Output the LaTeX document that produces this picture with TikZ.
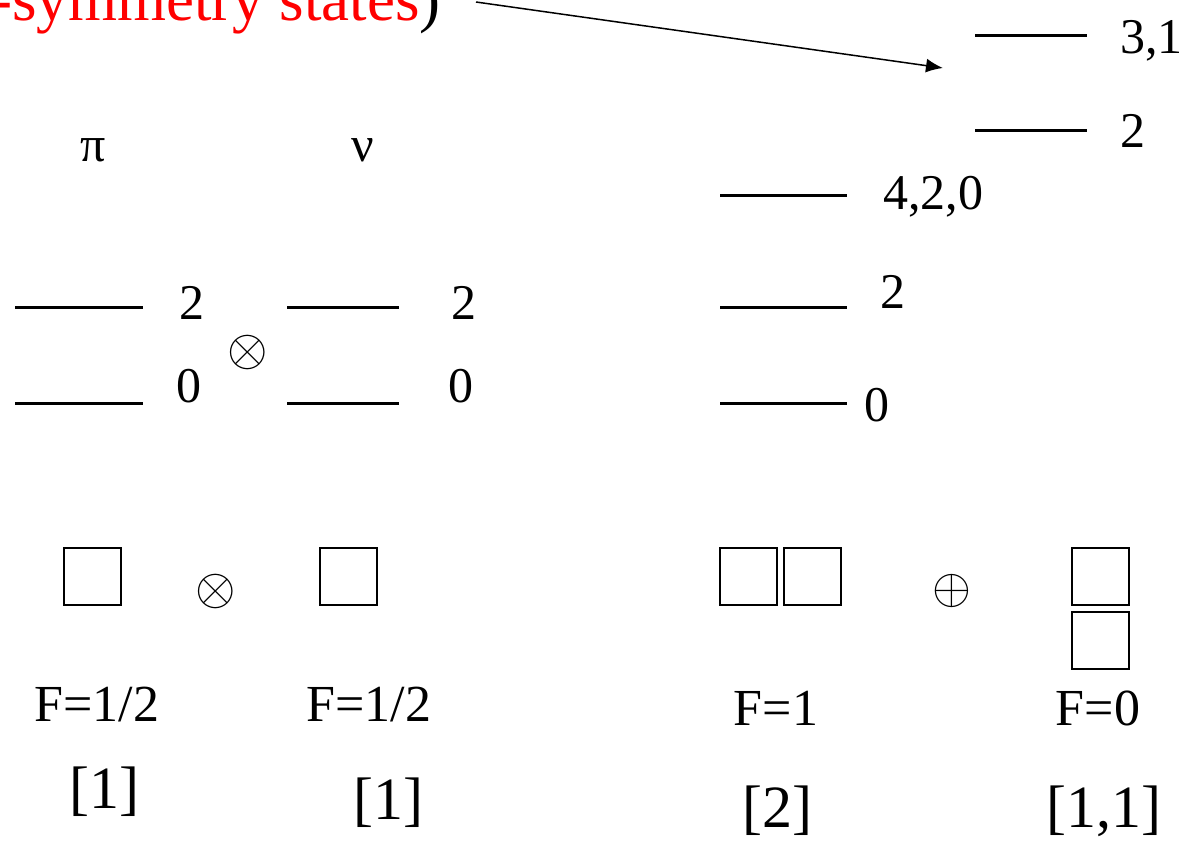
\documentclass[tikz,border=0pt]{standalone}
\usepackage{graphicx}
\usepackage{fontspec}
\setmainfont{Liberation Serif}
\usetikzlibrary{arrows.meta}
\newcommand{\bigotimesym}{\scalebox{5.2}{$\otimes$}}
\newcommand{\bigoplussym}{\scalebox{5.0}{$\oplus$}}
\begin{document}
\begin{tikzpicture}[x=1pt,y=-1pt,
  lvl/.style={line width=3pt},
  lab/.style={font=\fontsize{50}{50}\selectfont, inner sep=0pt, text depth=0pt},
  big/.style={font=\fontsize{60}{60}\selectfont, inner sep=0pt},
  flab/.style={font=\fontsize{52}{52}\selectfont, inner sep=0pt, text depth=0pt},
  op/.style={inner sep=0pt},
  ybox/.style={draw, line width=2pt, minimum size=57pt, inner sep=0pt},
  pointer/.style={-{Latex[length=17pt,width=14pt]}, line width=1.5pt}]
\useasboundingbox (0,0) rectangle (1189,841);

% title (cut off at the picture's edge, as in the reference)
\node[anchor=base west, inner sep=0pt, text=red, font=\fontsize{63}{63}\selectfont] (title) at (-9,20) {-symmetry states\textcolor{black}{)}};
\coordinate (arrS) at (476,2);
\coordinate (arrE) at (943,68);
\draw[pointer] (arrS) -- (arrE);

% pi levels
\node[lab] (pi) at (93,150) {π};
\draw[lvl] (15,307) -- (143,307);
\draw[lvl] (15,403) -- (143,403);
\node[lab, anchor=west] (pi2) at (179,303) {2};
\node[lab, anchor=west] (pi0) at (176,386) {0};
\node[op] (otA) at (248,352) {\bigotimesym};

% nu levels
\node[lab] (nu) at (363,150) {ν};
\draw[lvl] (287,307) -- (399,307);
\draw[lvl] (287,403) -- (399,403);
\node[lab, anchor=west] (nu2) at (451,303) {2};
\node[lab, anchor=west] (nu0) at (448,386) {0};

% F=1 levels
\draw[lvl] (720,195) -- (847,195);
\draw[lvl] (720,307) -- (847,307);
\draw[lvl] (720,403) -- (847,403);
\node[lab, anchor=west] (s420) at (883,193) {4,2,0};
\node[lab, anchor=west] (s2) at (880,292) {2};
\node[lab, anchor=west] (s0) at (864,405) {0};

% F=0 levels
\draw[lvl] (975,35) -- (1087,35);
\draw[lvl] (975,130) -- (1087,130);
\node[lab, anchor=west] (m31) at (1120,37) {3,1};
\node[lab, anchor=west] (m2) at (1120,131) {2};

% Young diagrams
\node[ybox] (bp) at (92.5,576.5) {};
\node[op] (otB) at (216,591) {\bigotimesym};
\node[ybox] (bn) at (348,576.5) {};
\node[ybox] (b2a) at (748,576.5) {};
\node[ybox] (b2b) at (812,576.5) {};
\node[op] (opl) at (952,591) {\bigoplussym};
\node[ybox] (b11a) at (1100,576.5) {};
\node[ybox] (b11b) at (1100,640) {};

% F labels
\node[flab] (fp) at (97,704) {F=1/2};
\node[flab] (fn) at (369,704) {F=1/2};
\node[flab] (f1) at (776,708) {F=1};
\node[flab] (f0) at (1098,708) {F=0};

% partitions
\node[big] (pp) at (104,792) {[1]};
\node[big] (pn) at (388,803) {[1]};
\node[big] (p2) at (777,811) {[2]};
\node[big] (p11) at (1104,811) {[1,1]};
\end{tikzpicture}
\end{document}
